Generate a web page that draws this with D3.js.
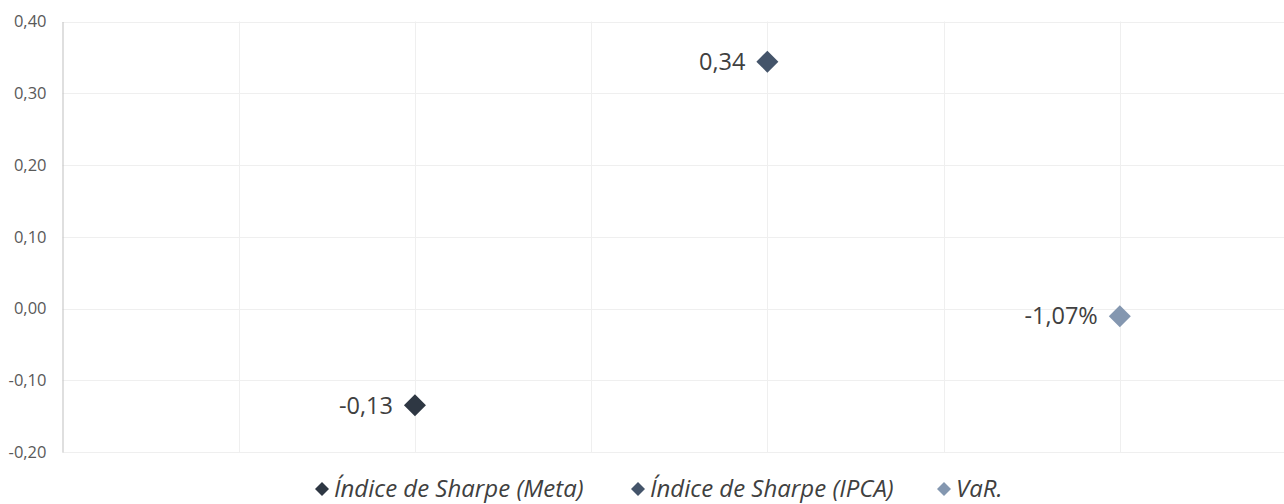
<!DOCTYPE html>
<html>
<head>
<meta charset="utf-8">
<script src="https://cdn.jsdelivr.net/npm/d3@7"></script>
<style>
  body { margin: 0; background: #fff; }
  svg { display: block; font-family: "Open Sans", sans-serif; }
</style>
</head>
<body>
<svg id="chart"></svg>
<script>
// Chart data
const seriesNames = ["Índice de Sharpe (Meta)", "Índice de Sharpe (IPCA)", "VaR."];
const seriesX = [1, 2, 3];
const seriesValues = [-0.135, 0.344, -0.0107];
const pointLabels = ["-0,13", "0,34", "-1,07%"];
const seriesColors = ["#2e3743", "#44546a", "#8497b0"];
const yTicks = [-0.2, -0.1, 0, 0.1, 0.2, 0.3, 0.4];
const xGrid = [0.5, 1, 1.5, 2, 2.5, 3, 3.5];

const width = 1284;
const height = 504;

const svg = d3.select("#chart").attr("width", width).attr("height", height);

// Scales
const xScale = d3.scaleLinear().domain([0, 3.5]).range([62.5, 1296]);
const yScale = d3.scaleLinear().domain([-0.2, 0.4]).range([452, 21.5]);

// comma decimals, plain hyphen for negatives
const fmt = (d) => d3.format(".2f")(d).replace("−", "-").replace(".", ",");

// Horizontal gridlines
svg.append("g")
  .selectAll("line")
  .data(yTicks)
  .enter()
  .append("line")
  .attr("x1", xScale(0))
  .attr("x2", width)
  .attr("y1", (d) => Math.round(yScale(d)) + 0.5)
  .attr("y2", (d) => Math.round(yScale(d)) + 0.5)
  .attr("stroke", "#efefef")
  .attr("stroke-width", 1);

// Vertical gridlines
svg.append("g")
  .selectAll("line")
  .data(xGrid)
  .enter()
  .append("line")
  .attr("x1", (d) => Math.round(xScale(d)) + 0.5)
  .attr("x2", (d) => Math.round(xScale(d)) + 0.5)
  .attr("y1", yScale(0.4))
  .attr("y2", yScale(-0.2))
  .attr("stroke", "#efefef")
  .attr("stroke-width", 1);

// Y axis
const yAxis = d3.axisLeft(yScale)
  .tickValues(yTicks)
  .tickSize(0)
  .tickPadding(16)
  .tickFormat(fmt);

const yg = svg.append("g")
  .attr("transform", `translate(${xScale(0)}, 0)`)
  .call(yAxis);

yg.select(".domain").attr("stroke", "#bfbfbf");
yg.selectAll("text")
  .attr("fill", "#595959")
  .style("font-size", "16.5px")
  .style("font-family", "Open Sans, sans-serif");

// Points
const diamond = d3.symbol().type(d3.symbolSquare).size(242);

const points = svg.append("g")
  .selectAll("g")
  .data(seriesValues)
  .enter()
  .append("g")
  .attr("transform", (d, i) => `translate(${xScale(seriesX[i])}, ${yScale(d)})`);

points.append("path")
  .attr("d", diamond)
  .attr("transform", "rotate(45)")
  .attr("fill", (d, i) => seriesColors[i]);

points.append("text")
  .attr("x", -22)
  .attr("y", 0)
  .attr("dy", "0.35em")
  .attr("text-anchor", "end")
  .attr("fill", "#404040")
  .style("font-size", "23.5px")
  .text((d, i) => pointLabels[i]);

// Legend
const legendX = [322, 638, 944];
const legendMarker = d3.symbol().type(d3.symbolSquare).size(98);

const legend = svg.append("g")
  .selectAll("g")
  .data(seriesNames)
  .enter()
  .append("g")
  .attr("transform", (d, i) => `translate(${legendX[i]}, 489)`);

legend.append("path")
  .attr("d", legendMarker)
  .attr("transform", "rotate(45)")
  .attr("fill", (d, i) => seriesColors[i]);

legend.append("text")
  .attr("x", 12)
  .attr("dy", "0.35em")
  .attr("fill", "#404040")
  .style("font-size", "24px")
  .style("font-style", "italic")
  .text((d) => d);
</script>
</body>
</html>
